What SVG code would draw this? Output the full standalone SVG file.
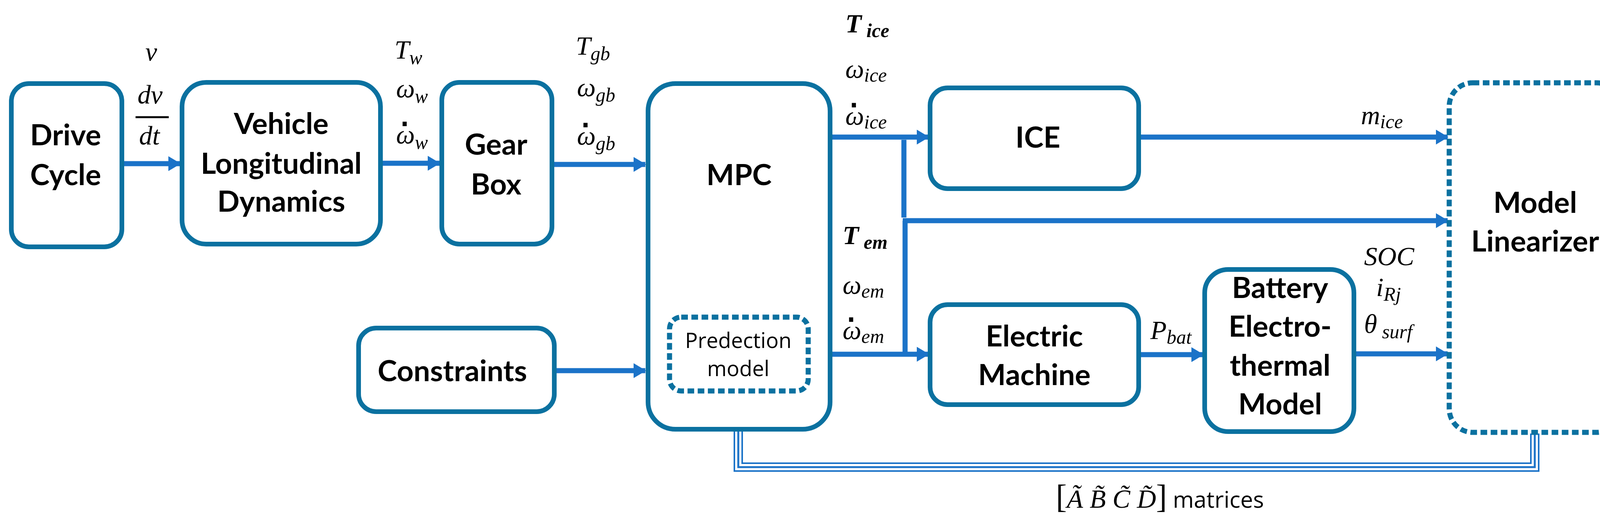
<svg xmlns="http://www.w3.org/2000/svg" width="4183" height="1357" viewBox="0 0 4183 1357">
<style>
.box{fill:#fff;stroke:#0b71a0;stroke-width:12}
.dot{fill:#fff;stroke:#0b71a0;stroke-width:13;stroke-dasharray:17 9}
.lbl{font-family:Lato,"Open Sans",sans-serif;font-weight:bold;font-size:75px;fill:#000;text-anchor:middle}
.sm{font-family:"Open Sans",Lato,sans-serif;font-size:54px;fill:#000;text-anchor:middle}
.m{font-family:"Liberation Serif","DejaVu Serif",serif;font-style:italic;font-size:68px;fill:#000}
.s{font-size:50px}
.d{font-family:"DejaVu Sans",sans-serif;font-size:60px;font-weight:bold;fill:#000;text-anchor:middle}
.ln{fill:none;stroke:#1b73c8;stroke-width:13}
</style>
<defs>
<marker id="ah" viewBox="0 0 32 38" refX="30" refY="19" markerWidth="32" markerHeight="38" markerUnits="userSpaceOnUse" orient="auto">
<path d="M0,0 L32,19 L0,38 Z" fill="#1b73c8"/>
</marker>
</defs>
<rect width="4183" height="1357" fill="#fff"/>
<g id="connectors">
<path class="ln" d="M312,419 H461" marker-end="url(#ah)"/>
<path class="ln" d="M974,418 H1125" marker-end="url(#ah)"/>
<path class="ln" d="M1413,421 H1652" marker-end="url(#ah)"/>
<path class="ln" d="M1419,949 H1652" marker-end="url(#ah)"/>
<path class="ln" d="M2125,351 H2377" marker-end="url(#ah)"/>
<path class="ln" d="M2314,358 V557"/>
<path class="ln" d="M2317,565 V904"/>
<path class="ln" d="M2311,565 H3706" marker-end="url(#ah)"/>
<path class="ln" d="M2125,907 H2377" marker-end="url(#ah)"/>
<path class="ln" d="M2915,351 H3706" marker-end="url(#ah)"/>
<path class="ln" d="M2915,908 H3080" marker-end="url(#ah)"/>
<path class="ln" d="M3466,906 H3706" marker-end="url(#ah)"/>
<path d="M1890,1083 V1196 H3929 V1110" fill="none" stroke="#1b73c8" stroke-width="24"/>
<path d="M1890,1083 V1196 H3929 V1110" fill="none" stroke="#fff" stroke-width="16"/>
<path d="M1890,1083 V1196 H3929 V1110" fill="none" stroke="#1b73c8" stroke-width="5"/>
<polygon points="1890,1003 1848,1083 1932,1083" fill="#1b73c8"/>
</g>
<g id="drive-cycle"><rect class="box" x="29" y="214" width="283" height="418" rx="45"/>
<text class="lbl" x="168" y="372">Drive</text><text class="lbl" x="168" y="474">Cycle</text></g>
<g id="vehicle"><rect class="box" x="466" y="211" width="508" height="414" rx="62"/>
<text class="lbl" x="720" y="343">Vehicle</text><text class="lbl" x="720" y="445">Longitudinal</text><text class="lbl" x="720" y="542">Dynamics</text></g>
<g id="gearbox"><rect class="box" x="1131" y="211" width="282" height="414" rx="45"/>
<text class="lbl" x="1270" y="396">Gear</text><text class="lbl" x="1270" y="498">Box</text></g>
<g id="constraints"><rect class="box" x="918" y="840" width="501" height="214" rx="45"/>
<text class="lbl" x="1158" y="976">Constraints</text></g>
<g id="mpc"><rect class="box" x="1659" y="214" width="466" height="885" rx="70"/>
<text class="lbl" x="1892" y="474">MPC</text>
<g id="prediction"><rect class="dot" x="1714" y="812" width="355" height="189" rx="30"/>
<text class="sm" x="1890" y="891">Predection</text><text class="sm" x="1890" y="963">model</text></g></g>
<g id="ice"><rect class="box" x="2381" y="225" width="534" height="258" rx="45"/>
<text class="lbl" x="2657" y="378">ICE</text></g>
<g id="em"><rect class="box" x="2381" y="780" width="534" height="256" rx="45"/>
<text class="lbl" x="2648" y="887">Electric</text><text class="lbl" x="2648" y="986">Machine</text></g>
<g id="battery"><rect class="box" x="3084" y="690" width="382" height="415" rx="60"/>
<text class="lbl" x="3277" y="763">Battery</text><text class="lbl" x="3277" y="862">Electro-</text><text class="lbl" x="3277" y="962">thermal</text><text class="lbl" x="3277" y="1061">Model</text></g>
<g id="model-linearizer"><rect class="dot" x="3710" y="212" width="437" height="895" rx="60"/>
<text class="lbl" x="3930" y="545">Model</text><text class="lbl" x="3930" y="644">Linearizer</text></g>
<g id="labels">
<text class="m" x="372" y="155">v</text>
<text class="m" x="352" y="265">dv</text>
<line x1="347" y1="300" x2="432" y2="300" stroke="#000" stroke-width="5"/>
<text class="m" x="356" y="370">dt</text>
<text class="m" x="1010" y="150">T<tspan class="s" dy="14">w</tspan></text>
<text class="m" x="1014" y="249">ω<tspan class="s" dy="14">w</tspan></text>
<text class="m" x="1014" y="367">ω<tspan class="s" dy="14">w</tspan></text>
<text class="m" x="1474" y="140">T<tspan class="s" dy="14">gb</tspan></text>
<text class="m" x="1477" y="246">ω<tspan class="s" dy="14">gb</tspan></text>
<text class="m" x="1477" y="370">ω<tspan class="s" dy="14">gb</tspan></text>
<text class="m" x="2164" y="83" font-weight="bold">T<tspan class="s" dy="12"> ice</tspan></text>
<text class="m" x="2164" y="199">ω<tspan class="s" dy="10">ice</tspan></text>
<text class="m" x="2164" y="319">ω<tspan class="s" dy="10">ice</tspan></text>
<text class="m" x="2157" y="625" font-weight="bold">T<tspan class="s" dy="12"> em</tspan></text>
<text class="m" x="2157" y="752">ω<tspan class="s" dy="10">em</tspan></text>
<text class="m" x="2157" y="868">ω<tspan class="s" dy="10">em</tspan></text>
<text class="d" x="1036" y="338">·</text>
<text class="d" x="1499" y="341">·</text>
<text class="d" x="2186" y="290">·</text>
<text class="d" x="2179" y="839">·</text>
<text class="m" x="3484" y="318">m<tspan class="s" dy="10">ice</tspan></text>
<text class="m" x="2945" y="868">P<tspan class="s" dy="12">bat</tspan></text>
<text class="m" x="3492" y="679">SOC</text>
<text class="m" x="3523" y="758">i<tspan class="s" dy="12">Rj</tspan></text>
<text class="m" x="3492" y="852">θ<tspan class="s" dy="14"> surf</tspan></text>
<text class="m" x="2703" y="1300"><tspan font-style="normal" font-size="84">[</tspan>Ã B̃ C̃ D̃<tspan font-style="normal" font-size="84">]</tspan><tspan font-family="'Open Sans',sans-serif" font-style="normal" font-size="58"> matrices</tspan></text>
</g>
</svg>
